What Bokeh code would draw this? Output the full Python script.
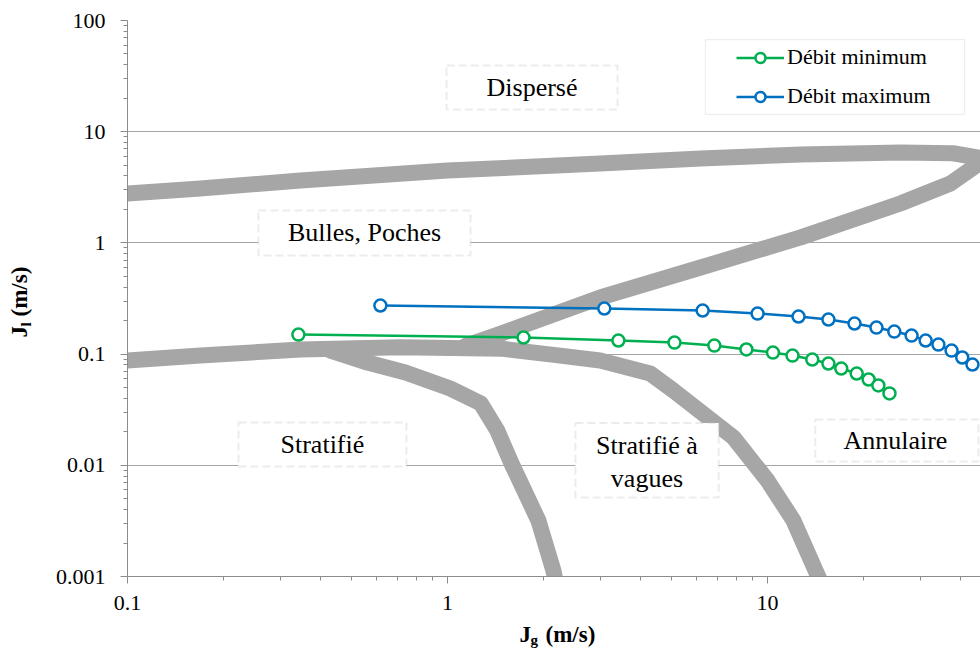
from math import pi
from bokeh.plotting import figure
from bokeh.layouts import row, column
from bokeh.models import (Range1d, FixedTicker, CustomJSTickFormatter, Legend,
                          LegendItem, BoxAnnotation, Label)
from bokeh.embed import file_html
from bokeh.resources import INLINE

# ---------------- data ----------------
x_ticks = [0.1, 1, 10]
y_ticks = [0.001, 0.01, 0.1, 1, 10, 100]

# Débit minimum (green)
jg_min = [0.342, 1.728, 3.42, 5.12, 6.82, 8.59, 10.4, 11.97, 13.8, 15.5, 17.0, 19.0, 20.7, 22.2, 24.05]
jl_min = [0.150, 0.141, 0.1325, 0.127, 0.1194, 0.110, 0.1032, 0.0971, 0.0894, 0.0823, 0.0742, 0.0669,
          0.0591, 0.0522, 0.0443]
# Débit maximum (blue)
jg_max = [0.617, 3.09, 6.27, 9.31, 12.5, 15.5, 18.7, 21.9, 24.9, 28.2, 31.2, 34.2, 37.6, 40.6, 43.7]
jl_max = [0.2735, 0.257, 0.2466, 0.2317, 0.2178, 0.2047, 0.1884, 0.1733, 0.1595, 0.1468, 0.1325, 0.1219,
          0.1076, 0.0932, 0.0806]

# flow-regime boundaries (grey bands)
top_jg = [0.1, 0.169, 0.347, 1.0, 3.0, 6.18, 12.7, 26.0, 38.0, 48.0]
top_jl = [2.78, 3.08, 3.64, 4.48, 5.17, 5.74, 6.24, 6.5, 6.4, 5.7]
diag_jg = [1.14, 1.47, 3.0, 6.18, 12.7, 26.0, 37.3, 48.0]
diag_jl = [0.119, 0.153, 0.323, 0.601, 1.12, 2.26, 3.42, 5.7]
low_jg = [0.1, 0.169, 0.347, 0.713, 1.47, 2.25, 3.0, 4.30, 5.08, 7.83, 10.0, 12.05, 14.4, 15.6]
low_jl = [0.0875, 0.097, 0.110, 0.115, 0.112, 0.097, 0.0875, 0.067, 0.0471, 0.0178, 0.0073, 0.00319,
          0.001, 0.0006]
strat_jg = [0.431, 0.562, 0.739, 1.02, 1.27, 1.43, 1.585, 1.923, 2.143, 2.207]
strat_jl = [0.1076, 0.084, 0.0683, 0.0491, 0.036, 0.0206, 0.01038, 0.00319, 0.00113, 0.00075]

FONT = "Liberation Serif"
GREEN = "#00B050"
BLUE = "#0070C0"
BAND = "#A6A6A6"

TOTAL_W, TOTAL_H = 980, 648
L = 50            # width of the strip holding the y title
MAIN_H = 620      # height of the main plot
FL, FT, FB = 127, 20, 576   # frame left / top / bottom on the page

p = figure(width=TOTAL_W - L, height=MAIN_H, x_axis_type="log", y_axis_type="log",
           x_range=Range1d(0.1, 46.3), y_range=Range1d(0.001, 100),
           output_backend="svg", toolbar_location=None, title=None,
           min_border_left=FL - L, min_border_right=0, min_border_top=FT,
           min_border_bottom=MAIN_H - FB)
p.outline_line_color = None
p.background_fill_color = "white"
p.border_fill_color = "white"

mult = [2, 3, 4, 5, 6, 7, 8, 9]
x_minor = [t * m for t in x_ticks for m in mult]
y_minor = [t * m for t in y_ticks[:-1] for m in mult]
fmt = CustomJSTickFormatter(code="return tick.toString()")

p.xaxis.ticker = FixedTicker(ticks=x_ticks, minor_ticks=x_minor)
p.yaxis.ticker = FixedTicker(ticks=y_ticks, minor_ticks=y_minor)
p.axis.formatter = fmt
p.axis.axis_line_color = "#8C8C8C"
p.axis.major_tick_line_color = "#8C8C8C"
p.axis.minor_tick_line_color = "#8C8C8C"
p.axis.major_tick_out = 7
p.axis.major_tick_in = 0
p.axis.minor_tick_out = 4
p.axis.minor_tick_in = 0
p.axis.major_label_text_font = FONT
p.axis.major_label_text_font_size = "22px"
p.axis.major_label_text_color = "black"
p.xaxis.major_label_standoff = 12
p.yaxis.major_label_standoff = 15

p.xgrid.visible = False
p.ygrid.grid_line_color = "#A6A6A6"
p.ygrid.grid_line_width = 1

# grey boundary bands
for xs, ys in ((top_jg, top_jl), (diag_jg, diag_jl), (low_jg, low_jl), (strat_jg, strat_jl)):
    p.line(xs, ys, line_color=BAND, line_width=16, line_join="round", line_cap="round")

# series
gl = p.line(jg_min, jl_min, line_color=GREEN, line_width=2.5)
gs = p.scatter(jg_min, jl_min, marker="circle", size=12, fill_color="white", line_color=GREEN, line_width=2.5)
bl = p.line(jg_max, jl_max, line_color=BLUE, line_width=2.5)
bs = p.scatter(jg_max, jl_max, marker="circle", size=12, fill_color="white", line_color=BLUE, line_width=2.5)

# regime label boxes (data coordinates)
boxes = [
    (0.993, 3.40, 39.4, 15.8),          # Dispersé
    (0.2566, 1.18, 1.955, 0.771),       # Bulles, Poches
    (0.2222, 0.744, 0.02427, 0.00975),  # Stratifié
    (2.51, 7.04, 0.0240, 0.00513),      # Stratifié à vagues
    (14.1, 45.6, 0.0258, 0.0108),       # Annulaire
]
for l, r, t, b in boxes:
    p.add_layout(BoxAnnotation(left=l, right=r, top=t, bottom=b, fill_color="white", fill_alpha=1,
                               line_color="#BFBFBF", line_width=2, line_dash="8 4"))

labels = [
    ("Dispersé", 1.837, 24.98),
    ("Bulles, Poches", 0.5505, 1.228),
    ("Stratifié", 0.4065, 0.01538),
    ("Stratifié à", 4.20, 0.01507),
    ("vagues", 4.20, 0.0076),
    ("Annulaire", 25.1, 0.0167),
]
for txt, x, y in labels:
    p.add_layout(Label(x=x, y=y, text=txt, text_align="center", text_baseline="middle",
                       text_font=FONT, text_font_size="26px", text_color="black"))

# legend frame + legend
p.add_layout(BoxAnnotation(left=6.40, right=41.3, top=67.4, bottom=14.3, fill_color="white", fill_alpha=1,
                           line_color="#C8C8C8", line_width=1.2))
legend = Legend(items=[LegendItem(label="Débit minimum", renderers=[gl, gs]),
                       LegendItem(label="Débit maximum", renderers=[bl, bs])],
                location=(609, 467), padding=0, margin=0, spacing=13,
                glyph_width=48, glyph_height=25, label_height=25, label_standoff=3,
                label_text_font=FONT, label_text_font_size="22px", label_text_color="black",
                border_line_color=None, background_fill_alpha=0)
p.add_layout(legend, "center")


def strip(w, h, xr, yr, **borders):
    f = figure(width=w, height=h, x_range=Range1d(*xr), y_range=Range1d(*yr),
               x_axis_location=None, y_axis_location=None, output_backend="svg",
               toolbar_location=None, title=None, min_border=0, **borders)
    f.outline_line_color = None
    f.background_fill_color = "white"
    f.border_fill_color = "white"
    f.grid.visible = False
    return f


def piece(f, text, x, y, size, angle=0.0):
    f.add_layout(Label(x=x, y=y, text=text, angle=angle, text_align="left",
                       text_baseline="middle", text_font=FONT, text_font_size=size,
                       text_font_style="bold", text_color="black"))


# y-axis title strip; frame shares the main plot's top/bottom, data = page coordinates
left = strip(L, TOTAL_H, (0, L), (FB, FT), min_border_top=FT, min_border_bottom=TOTAL_H - FB)
piece(left, "J", 19, 337, "23px", angle=pi / 2)
piece(left, "l", 25, 326, "15px", angle=pi / 2)
piece(left, "(m/s)", 19, 316, "23px", angle=pi / 2)

# x-axis title strip; frame shares the main plot's left edge, data = page coordinates
bottom = strip(TOTAL_W - L, TOTAL_H - MAIN_H, (FL, TOTAL_W), (TOTAL_H, MAIN_H),
               min_border_left=FL - L)
piece(bottom, "J", 519, 634, "23px")
piece(bottom, "g", 530, 639, "15px")
piece(bottom, "(m/s)", 545, 634, "23px")

layout = row(left, column(p, bottom))
open("out.html", "w").write(file_html(layout, INLINE))
